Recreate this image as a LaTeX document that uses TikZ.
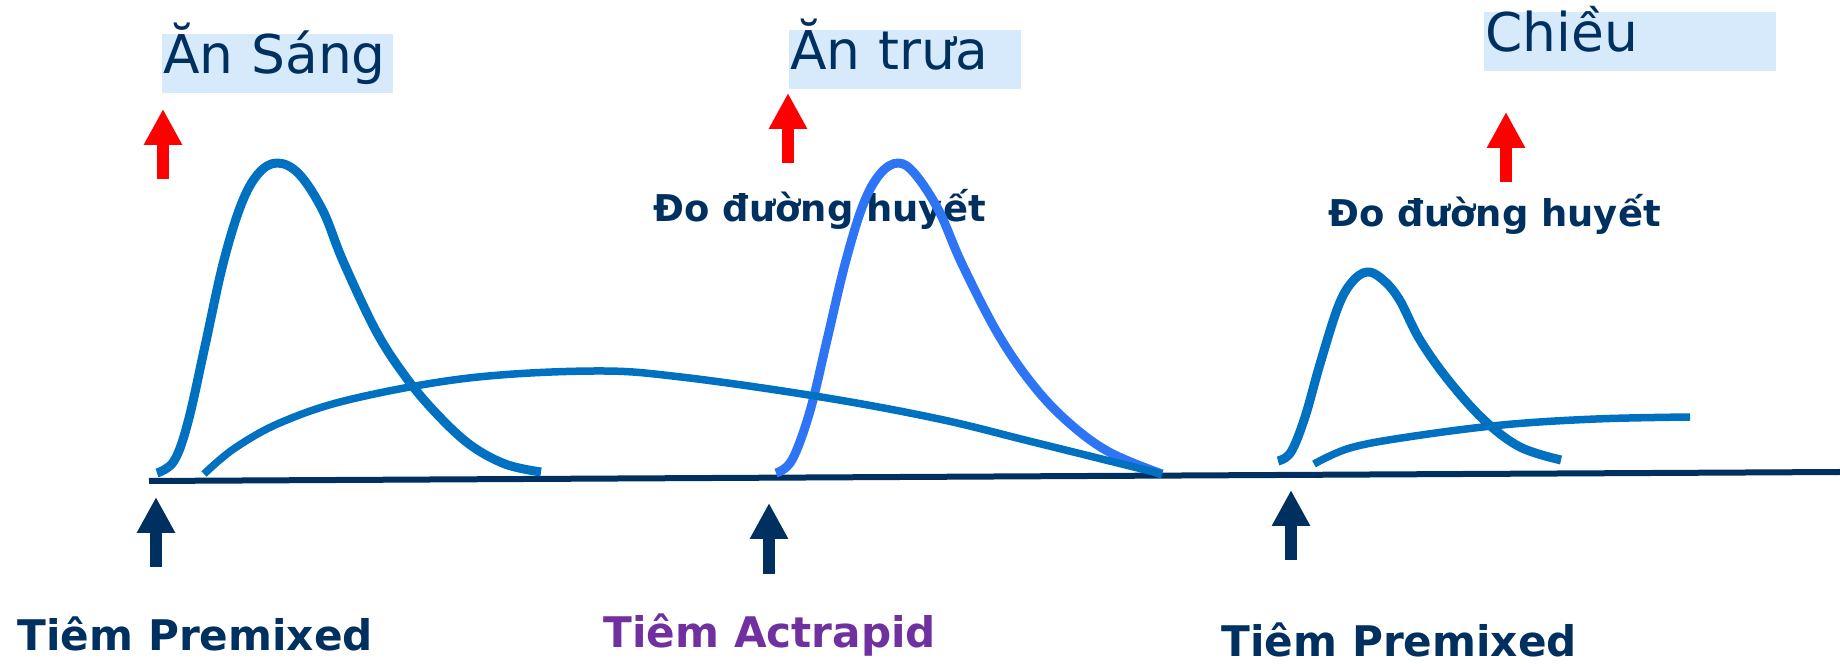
\documentclass[tikz,border=0pt]{standalone}
\usepackage{fontspec}
\setmainfont{DejaVu Sans}
\usetikzlibrary{arrows.meta}
\definecolor{navy}{RGB}{0,48,96}
\definecolor{slow}{RGB}{0,112,192}
\definecolor{fast}{RGB}{45,117,245}
\definecolor{pale}{RGB}{214,234,252}
\definecolor{plum}{RGB}{112,48,160}

\begin{document}
\begin{tikzpicture}[x=0.1mm,y=-0.1mm,
  meal/.style={anchor=north west,fill=pale,text=navy,inner xsep=0.15mm,inner ysep=0pt,
     text height=4mm,text depth=1.9mm,align=left,font=\fontsize{15.2}{17}\selectfont},
  note/.style={anchor=base west,inner sep=0pt,text=navy,font=\bfseries\fontsize{10.5}{12}\selectfont},
  shot/.style={anchor=base west,inner sep=0pt,text=navy,font=\bfseries\fontsize{12}{14}\selectfont},
  blockarrow/.style={line width=1.2mm,-{Triangle[width=3.6mm,length=3.6mm]}},
  bump/.style={line width=0.9mm,line join=round,smooth,tension=0.6}]
\useasboundingbox (0,0) rectangle (1840,664);
% meals
\node[meal,text width=22.8mm] (sang) at (161,33) {Ăn Sáng};
\node[meal,text width=22.9mm] (trua) at (788,29) {Ăn trưa};
\node[meal,text width=28.9mm] (chieu) at (1483,11) {Chiều};
\node[note] (do1) at (653,222) {Đo đường huyết};
\node[note] (do2) at (1328,227) {Đo đường huyết};
% injections
\node[shot] (tiem1) at (17,651) {Tiêm Premixed};
\node[shot,text=plum] (tiem2) at (603,648) {Tiêm Actrapid};
\node[shot] (tiem3) at (1221,657) {Tiêm Premixed};
% time axis
\coordinate (t0) at (149,481);
\coordinate (t1) at (1840,472);
\draw[navy,line width=0.6mm] (t0) -- (t1);
% arrows
\coordinate (m1) at (163,109); \coordinate (m2) at (788,93); \coordinate (m3) at (1506,112);
\draw[blockarrow,red] (163,179) -- (m1);
\draw[blockarrow,red] (788,163) -- (m2);
\draw[blockarrow,red] (1506,182) -- (m3);
\coordinate (i1) at (156,497); \coordinate (i2) at (769,503); \coordinate (i3) at (1291,490);
\draw[blockarrow,navy] (156,567) -- (i1);
\draw[blockarrow,navy] (769,574) -- (i2);
\draw[blockarrow,navy] (1291,560) -- (i3);
% glucose bumps
\draw[bump,slow] plot coordinates {(157,473) (174,461) (188,422) (205,346) (223,264) (241,205)
  (258,174) (277,163) (299,174) (323,211) (343,261) (376,331) (405,376) (434,411) (469,444)
  (505,464) (541,472)};
\draw[bump,fast] plot coordinates {(776,473) (792,460) (810,411) (827,340) (845,264) (863,205)
  (880,174) (898,163) (915,174) (939,211) (962,264) (998,334) (1033,385) (1068,422) (1109,452)
  (1162,474)};
\draw[bump,slow] plot coordinates {(1278,461) (1291,452) (1305,417) (1320,364) (1338,307)
  (1352,282) (1367,272) (1382,279) (1399,299) (1420,340) (1449,381) (1484,420) (1520,447)
  (1561,460)};
% premixed profile
\draw[bump,slow,line width=0.75mm] plot coordinates {(204,474) (235,448) (282,422) (352,399)
  (469,378) (595,371) (681,377) (821,397) (939,419) (1033,442) (1162,474)};
\draw[bump,slow,line width=0.75mm] plot coordinates {(1314,464) (1350,448) (1408,437) (1502,425)
  (1596,419) (1690,417)};
\end{tikzpicture}
\end{document}
